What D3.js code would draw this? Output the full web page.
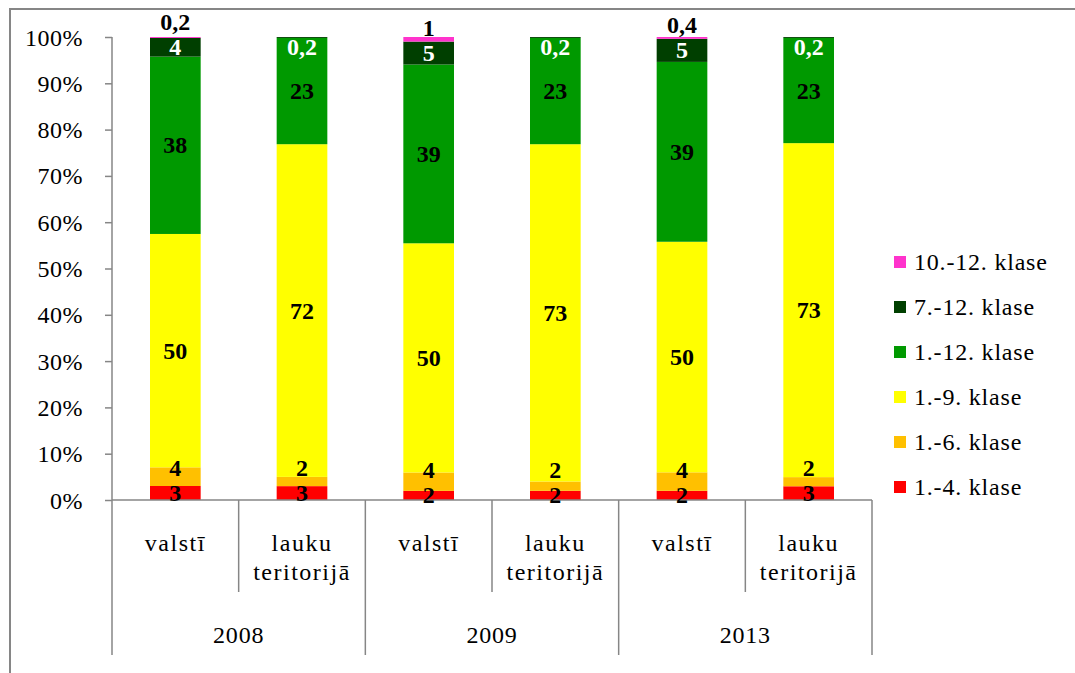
<!DOCTYPE html>
<html>
<head>
<meta charset="utf-8">
<script src="https://cdn.jsdelivr.net/npm/d3@7"></script>
<style>
  body { margin: 0; background: #fff; }
  svg text { font-family: "Liberation Serif", "DejaVu Serif", serif; }
</style>
</head>
<body>
<svg id="chart" width="1075" height="673"></svg>
<script>
'use strict';

// chart data
var years = ['2008', '2009', '2013'],
    places = [['valstī'], ['lauku', 'teritorijā']],
    seriesNames = ['1.-4. klase', '1.-6. klase', '1.-9. klase',
      '1.-12. klase', '7.-12. klase', '10.-12. klase'],
    seriesColors = ['#FF0000', '#FFC000', '#FFFF00', '#009900', '#003F00', '#FF33CC'],
    labelColors = ['#000', '#000', '#000', '#000', '#fff', '#000'],
    yTicks = [0, 0.1, 0.2, 0.3, 0.4, 0.5, 0.6, 0.7, 0.8, 0.9, 1];

// one value per bar: 2008 valstī, 2008 lauku, 2009 valstī, ...
var klase1_4 = [3, 3, 2, 2, 2, 3],
    klase1_6 = [4, 2, 4, 2, 4, 2],
    klase1_9 = [50, 72, 50, 73, 50, 73],
    klase1_12 = [38, 23, 39, 23, 39, 23],
    klase7_12 = [4, 0.2, 5, 0.2, 5, 0.2],
    klase10_12 = [0.2, 0, 1, 0, 0.4, 0];

var seriesValues = [klase1_4, klase1_6, klase1_9, klase1_12, klase7_12, klase10_12];

var svg = d3.select('#chart'),
    fontFamily = '"Liberation Serif", "DejaVu Serif", serif',
    plotLeft = 112,
    plotRight = 872,
    plotTop = 37,
    plotBottom = 500,
    axisColor = '#868686';

var bars = [];
years.forEach(function (year, yi) {
  places.forEach(function (place, pi) {
    var row = {id: yi * 2 + pi, year: year, place: place};
    seriesNames.forEach(function (name, si) {
      row[name] = seriesValues[si][row.id];
    });
    bars.push(row);
  });
});

var stack = d3.stack()
    .keys(seriesNames)
    .offset(d3.stackOffsetExpand);
var layers = stack(bars);

var x = d3.scaleBand()
    .domain(bars.map(function (d) { return d.id; }))
    .range([plotLeft, plotRight])
    .paddingInner(0.6)
    .paddingOuter(0.3);

var y = d3.scaleLinear()
    .domain([0, 1])
    .range([plotBottom, plotTop]);

// outer frame
svg.append('path')
    .attr('d', 'M10,673 L10,9 L1075,9')
    .attr('fill', 'none')
    .attr('stroke', axisColor)
    .attr('stroke-width', 2);

// y axis
var yAxis = svg.append('g')
    .attr('transform', 'translate(' + plotLeft + ',0)')
    .call(d3.axisLeft(y)
      .tickValues(yTicks)
      .tickSize(7)
      .tickPadding(22)
      .tickFormat(d3.format('.0%')));
yAxis.select('.domain').remove();
yAxis.selectAll('line').attr('stroke', axisColor).attr('stroke-width', 1.5);
yAxis.selectAll('text')
    .style('font-family', fontFamily)
    .style('font-size', '24px')
    .style('letter-spacing', '0.5px')
    .attr('fill', '#000')
    .attr('dy', 8);

svg.append('line')
    .attr('x1', plotLeft).attr('x2', plotLeft)
    .attr('y1', plotTop).attr('y2', 655)
    .attr('stroke', axisColor)
    .attr('stroke-width', 1.5);

// bars
var layerG = svg.append('g').selectAll('g')
    .data(layers)
    .join('g')
    .attr('fill', function (d, i) { return seriesColors[i]; });

layerG.selectAll('rect')
    .data(function (d) { return d; })
    .join('rect')
    .attr('x', function (d) { return x(d.data.id); })
    .attr('width', x.bandwidth())
    .attr('y', function (d) { return y(d[1]); })
    .attr('height', function (d) { return y(d[0]) - y(d[1]); });

// x axis line and category separators
svg.append('line')
    .attr('x1', plotLeft).attr('x2', plotRight)
    .attr('y1', plotBottom).attr('y2', plotBottom)
    .attr('stroke', axisColor)
    .attr('stroke-width', 1.5);

var step = x.step();
bars.forEach(function (d) {
  var bx = plotLeft + (d.id + 1) * step,
      isYearEnd = d.id % 2 === 1;
  svg.append('line')
      .attr('x1', bx).attr('x2', bx)
      .attr('y1', plotBottom).attr('y2', isYearEnd ? 655 : 592)
      .attr('stroke', axisColor)
      .attr('stroke-width', 1.5);
});

// category labels
var catG = svg.append('g')
    .style('font-family', fontFamily)
    .style('font-size', '24px')
    .attr('text-anchor', 'middle');
bars.forEach(function (d) {
  var cx = x(d.id) + x.bandwidth() / 2;
  d.place.forEach(function (line, li) {
    catG.append('text')
        .attr('x', cx)
        .attr('y', 551 + li * 29)
        .style('letter-spacing', '1.5px')
        .text(line);
  });
});
years.forEach(function (year, yi) {
  catG.append('text')
      .attr('x', plotLeft + (yi * 2 + 1) * step)
      .attr('y', 643)
      .style('letter-spacing', '0.8px')
      .text(year);
});

// data labels, nudged apart where segments are thin
var labelG = svg.append('g')
    .style('font-family', fontFamily)
    .style('font-size', '24px')
    .style('font-weight', 'bold')
    .attr('text-anchor', 'middle');

bars.forEach(function (bar, bi) {
  var prev = null;
  layers.forEach(function (layer, si) {
    var seg = layer[bi],
        value = seriesValues[si][bi],
        cy;
    if (!value) {
      return;
    }
    cy = Math.max((y(seg[0]) + y(seg[1])) / 2, plotTop + 10);
    if (prev !== null && cy > prev - 25) {
      cy = prev - 25;
    }
    prev = cy;
    labelG.append('text')
        .attr('x', x(bar.id) + x.bandwidth() / 2)
        .attr('y', cy + 8)
        .attr('fill', labelColors[si])
        .text(String(value).replace('.', ','));
  });
});

// legend
var legend = svg.append('g')
    .style('font-family', fontFamily)
    .style('font-size', '24px');
seriesNames.slice().reverse().forEach(function (name, i) {
  var si = seriesNames.length - 1 - i,
      cy = 262 + i * 45;
  legend.append('rect')
      .attr('x', 894)
      .attr('y', cy - 6)
      .attr('width', 12)
      .attr('height', 12)
      .attr('fill', seriesColors[si]);
  legend.append('text')
      .attr('x', 914)
      .attr('y', cy + 8)
      .style('letter-spacing', '0.8px')
      .text(name);
});
</script>
</body>
</html>
